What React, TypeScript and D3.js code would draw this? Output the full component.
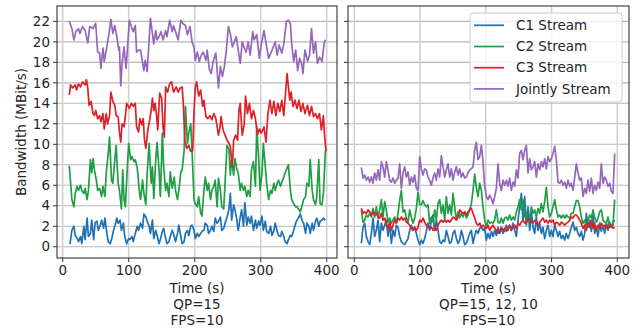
import React from "react";
import * as d3 from "d3";

type Pt = [number, number];

const seriesNames = ["C1 Stream", "C2 Stream", "C3 Stream", "Jointly Stream"];
const seriesColors = ["#1f72b4", "#1f9e45", "#de2027", "#9467bd"];
const yTicks = [0, 2, 4, 6, 8, 10, 12, 14, 16, 18, 20, 22];
const xTicks = [0, 100, 200, 300, 400];
const leftCaption = ["Time (s)", "QP=15", "FPS=10"];
const rightCaption = ["Time (s)", "QP=15, 12, 10", "FPS=10"];
const yLabel = "Bandwidth (MBit/s)";

// ---- Left panel (QP=15) : [time, MBit/s]
const leftC1: Pt[] = [[11,0.26],[14,1.6],[17,2.0],[19,1.1],[22,0.8],[24,0.5],[27,1.0],[29,0.3],[32,2.0],[34,0.7],[37,2.8],[39,1.0],[42,1.3],[44,2.6],[47,0.7],[49,2.3],[52,2.5],[54,1.6],[57,2.1],[59,2.6],[62,1.8],[64,2.8],[67,1.3],[69,0.5],[72,0.3],[74,0.7],[77,1.6],[79,2.0],[82,2.8],[84,2.3],[87,2.6],[89,1.6],[92,2.3],[94,1.0],[97,0.3],[100,0.8],[102,0.7],[105,1.0],[107,0.5],[110,1.3],[113,2.0],[115,1.6],[118,2.3],[121,1.8],[123,3.2],[126,2.9],[128,2.5],[131,2.0],[133,1.3],[136,2.6],[138,0.8],[141,1.6],[143,1.1],[146,0.3],[148,0.7],[151,1.5],[153,1.8],[156,0.8],[158,0.3],[161,0.5],[163,1.0],[166,1.6],[169,1.0],[171,0.5],[174,1.3],[176,2.1],[179,1.0],[181,0.3],[184,0.5],[186,1.3],[189,1.6],[191,1.1],[194,2.0],[196,2.1],[199,1.6],[201,0.8],[204,1.3],[206,1.0],[209,1.3],[211,1.5],[214,1.6],[216,2.3],[219,2.1],[221,1.3],[224,1.6],[226,2.0],[229,1.5],[231,2.8],[234,2.3],[236,2.5],[239,2.9],[241,1.6],[244,1.8],[246,2.3],[249,2.9],[252,3.7],[254,5.2],[256,2.6],[259,4.1],[261,3.6],[264,2.6],[266,1.6],[269,2.9],[271,3.6],[274,2.0],[276,4.3],[279,2.1],[281,2.9],[284,2.3],[286,3.0],[289,1.6],[292,2.6],[294,1.8],[297,2.5],[299,2.1],[302,3.0],[304,1.6],[307,2.5],[309,1.5],[312,1.3],[315,2.0],[317,1.1],[320,1.6],[322,2.3],[325,1.5],[327,1.1],[330,1.0],[332,1.5],[335,1.0],[337,0.5],[340,0.3],[342,0.7],[345,1.1],[347,1.0],[350,1.6],[353,2.3],[355,2.6],[358,2.9],[360,3.2],[363,2.5],[365,2.3],[368,1.3],[370,2.3],[373,2.0],[375,1.3],[378,2.3],[380,1.6],[383,2.5],[385,2.8],[388,2.0],[390,2.5],[393,2.6],[395,2.8],[398,2.6]];

const leftC2: Pt[] = [[10,7.9],[14,4.6],[17,3.9],[19,5.2],[22,5.9],[24,5.5],[27,6.0],[29,5.5],[32,5.2],[34,5.7],[37,4.6],[39,5.5],[42,8.5],[44,7.2],[46,8.6],[48,7.5],[51,6.5],[53,5.5],[56,5.7],[59,4.9],[61,5.9],[64,4.9],[66,7.2],[69,9.1],[71,10.7],[74,6.5],[76,6.2],[79,8.5],[81,9.9],[84,6.2],[86,5.5],[89,3.7],[91,7.5],[93,4.6],[95,3.9],[98,7.8],[100,10.1],[103,8.5],[105,8.8],[108,8.3],[110,8.5],[113,7.7],[116,5.5],[118,4.6],[121,6.5],[123,5.2],[126,4.1],[128,7.2],[131,10.1],[134,6.2],[136,7.8],[138,4.7],[141,8.5],[143,10.2],[146,7.5],[148,4.9],[151,11.1],[153,7.8],[156,5.5],[158,6.2],[161,4.9],[163,7.3],[166,5.7],[169,6.8],[171,5.5],[174,4.6],[176,5.5],[179,7.3],[181,7.5],[184,9.4],[186,13.7],[189,10.1],[191,11.1],[194,12.0],[196,9.4],[199,4.6],[201,4.2],[204,3.9],[206,4.9],[209,3.3],[211,3.0],[214,5.5],[216,6.8],[219,5.5],[221,6.2],[224,4.6],[226,5.5],[229,5.9],[231,6.5],[234,3.9],[236,6.7],[239,5.5],[241,3.9],[244,3.7],[246,6.2],[249,9.9],[252,9.5],[254,7.0],[256,8.5],[259,7.0],[261,8.6],[264,7.5],[266,7.2],[269,5.5],[271,6.2],[274,5.5],[276,5.9],[279,4.9],[281,5.5],[284,4.9],[286,7.5],[289,8.3],[292,5.9],[294,11.7],[297,8.5],[299,5.5],[302,7.2],[304,10.1],[307,7.8],[309,6.2],[312,4.6],[315,5.5],[317,5.2],[320,6.2],[322,5.5],[325,6.2],[327,6.5],[330,5.9],[332,6.3],[335,6.8],[337,7.2],[340,7.7],[342,8.0],[345,5.5],[347,4.6],[350,4.2],[353,3.9],[355,3.9],[358,3.6],[360,3.4],[363,4.1],[365,4.6],[368,4.9],[370,6.2],[373,5.9],[375,8.5],[378,5.5],[380,4.6],[383,4.1],[385,4.9],[388,8.5],[390,4.2],[393,4.1],[395,5.2],[398,9.4]];

const leftC3: Pt[] = [[10,14.8],[12,15.8],[15,15.5],[19,15.8],[21,15.3],[24,15.9],[27,15.6],[30,16.1],[34,15.8],[36,16.3],[38,15.5],[40,13.8],[43,14.2],[46,13.0],[48,12.8],[50,13.3],[53,12.5],[56,12.8],[58,12.2],[61,13.0],[63,11.5],[66,13.0],[68,12.0],[71,12.8],[73,15.1],[76,14.2],[79,13.8],[81,12.8],[84,12.7],[86,11.2],[88,10.2],[90,12.0],[93,11.7],[95,12.8],[97,14.0],[101,13.5],[104,14.0],[107,13.7],[110,14.0],[112,11.7],[115,11.2],[117,12.5],[120,11.9],[122,12.5],[124,10.4],[126,9.6],[129,11.4],[132,12.4],[134,13.3],[136,14.5],[138,13.3],[140,14.0],[142,13.0],[144,11.4],[147,15.0],[150,14.5],[152,11.7],[154,10.7],[156,15.6],[159,15.1],[162,15.9],[165,16.1],[168,15.1],[172,15.6],[175,15.1],[178,15.5],[181,15.6],[183,13.7],[185,10.4],[188,9.6],[191,9.9],[194,9.3],[197,9.4],[199,13.3],[201,15.6],[203,16.1],[206,14.7],[209,15.3],[212,13.7],[214,14.3],[217,12.7],[220,12.5],[223,12.8],[226,12.4],[229,13.0],[232,12.5],[236,10.9],[238,11.5],[240,12.7],[243,11.4],[246,10.9],[249,10.4],[252,10.1],[254,9.8],[257,7.8],[259,10.4],[262,10.9],[265,10.4],[267,13.3],[269,14.0],[272,10.9],[275,11.9],[277,14.7],[280,13.0],[283,14.0],[286,12.5],[289,13.3],[292,12.5],[295,10.9],[298,11.5],[301,11.1],[305,11.7],[308,10.2],[311,13.0],[314,14.3],[317,13.0],[320,14.2],[323,12.8],[326,14.0],[329,13.2],[332,14.3],[335,12.8],[338,15.3],[340,16.9],[342,15.6],[344,14.3],[346,15.1],[349,13.7],[352,14.3],[355,13.5],[358,14.3],[361,13.2],[364,14.0],[367,13.0],[371,13.8],[374,12.8],[377,13.7],[380,12.7],[383,13.0],[386,12.5],[389,13.0],[392,11.4],[395,12.8],[397,10.7],[399,9.3]];

const leftJoint: Pt[] = [[10,22.0],[14,21.3],[17,20.2],[20,21.0],[24,21.3],[26,20.8],[30,21.5],[34,21.1],[38,19.9],[41,21.5],[46,21.3],[50,21.8],[53,19.0],[56,18.9],[58,17.4],[61,19.4],[63,18.1],[66,19.2],[70,20.7],[73,22.2],[76,20.8],[79,21.6],[82,20.5],[85,19.2],[86,19.5],[88,15.7],[90,17.9],[93,19.5],[96,17.4],[98,19.2],[101,22.1],[104,21.5],[107,21.0],[110,21.6],[112,19.0],[115,19.2],[118,19.2],[120,18.4],[123,17.2],[125,18.2],[128,17.1],[130,19.2],[133,22.3],[136,20.8],[138,19.8],[141,21.1],[143,20.2],[146,20.5],[149,21.0],[152,20.2],[156,21.1],[158,20.5],[162,22.1],[166,21.0],[168,21.6],[172,20.8],[175,20.2],[179,22.1],[182,21.8],[186,21.6],[189,20.7],[193,21.5],[196,20.0],[199,19.5],[201,18.2],[204,19.0],[207,18.1],[210,18.7],[213,19.0],[217,18.2],[219,19.2],[222,17.4],[225,16.9],[228,18.1],[232,18.9],[236,15.5],[239,17.6],[242,16.6],[245,17.6],[248,19.2],[251,21.5],[254,20.8],[257,19.5],[260,20.0],[263,20.5],[266,19.2],[269,17.9],[272,20.0],[275,19.4],[278,19.0],[281,20.0],[284,18.7],[288,21.0],[290,20.2],[294,20.7],[298,18.4],[301,19.8],[305,21.1],[309,19.5],[312,18.4],[316,19.0],[319,19.5],[322,20.0],[325,18.7],[328,19.7],[332,18.9],[335,19.8],[339,22.0],[342,22.1],[345,21.8],[347,19.8],[350,18.1],[353,19.2],[356,17.2],[359,18.4],[362,17.9],[364,16.9],[367,19.2],[371,18.1],[374,18.7],[377,21.3],[380,18.9],[383,20.0],[386,17.9],[389,18.5],[393,18.1],[396,19.8],[398,20.2]];

// ---- Right panel (QP=15, 12, 10): sampled on a regular time grid
const rightTime = d3.range(153).map((i) => 10.7 + i * 2.535);

const rightC1 = [0.33,1.9,2.3,1.0,0.5,0.2,1.3,2.8,1.0,1.6, 2.6,0.5,2.3,1.6,2.1,2.6,1.0,2.3,0.33,1.6, 1.0,2.1,1.9,1.0,0.5,0.33,0.2,0.5,0.8,1.6, 2.1,1.6,1.9,1.3,0.65,0.2,0.65,0.33,0.8,1.5, 2.3,1.6,2.6,3.1,1.6,2.6,1.6,0.5,0.33,0.65, 0.5,1.6,1.0,0.33,0.5,1.3,1.6,0.8,0.33,0.65, 1.6,1.0,0.2,0.33,0.8,1.3,1.6,0.33,1.1,1.6, 1.3,1.8,1.9,1.6,1.8,
  0.65,1.3,0.8,1.5,1.0,1.6,1.1,1.9,1.3,1.8, 1.3,1.6,2.1,1.6,2.1,1.6,2.3,1.6,1.0,2.6, 3.9,5.2,2.6,4.9,2.1,3.9,1.6,3.4,1.9,1.3, 2.9,1.6,2.3,1.3,1.9,0.8,1.6,2.1,1.0,1.6, 1.0,2.1,1.6,1.0,1.5,0.8,1.1,0.65,1.3,0.8, 1.3,1.9,2.4,1.6,1.9,1.3,1.0,1.5,0.65,1.3, 3.26,1.9,2.6,1.5,3.1,1.3,1.9,1.0,2.3,1.5, 2.1,1.3,2.3,1.6,2.4,1.9,2.4,2.6];

const rightC2 = [3.6,2.4,2.6,3.1,2.9,3.26,2.9,3.75,2.9,3.9, 2.8,3.6,4.6,2.9,4.4,3.6,2.4,2.8,2.3,2.6, 2.9,2.3,3.26,4.5,5.5,3.4,3.6,2.8,2.4,3.6, 2.9,2.3,2.8,3.75,5.3,4.1,4.1,4.5,4.1,3.9, 4.1,2.3,2.9,2.4,3.6,2.6,4.2,4.6,3.26,4.1, 2.6,4.9,3.26,4.1,3.1,5.2,3.9,2.6,3.4,2.8, 3.26,2.9,3.4,2.8,3.1,3.6,4.2,5.5,7.1,5.8, 4.9,6.2,5.5,3.9,2.6,
  1.9,2.6,2.3,2.4,2.3,2.6,3.6,2.4,2.3,2.8, 2.3,2.8,2.9,2.6,3.1,2.6,2.9,2.6,3.4,3.9, 4.6,3.6,4.6,2.9,3.26,2.4,2.9,3.9,3.26,3.6, 2.9,3.75,3.26,4.2,3.4,4.4,5.8,3.9,2.9,3.26, 3.9,4.6,3.6,2.9,3.1,2.8,3.1,2.8,3.1,2.9, 2.8,3.26,3.26,3.9,4.5,4.5,3.9,2.9,2.3,2.6, 2.1,2.6,3.1,2.8,3.6,2.9,2.4,2.8,3.4,3.6, 2.6,2.4,2.3,2.9,1.9,2.1,2.1,4.6];

const rightC3 = [3.75,3.26,3.4,3.26,3.6,3.4,3.1,3.4,3.1,3.26, 2.9,2.8,3.26,2.6,2.8,2.1,1.8,2.4,1.6,2.1, 2.6,2.3,2.8,2.6,2.9,2.6,2.8,2.4,2.3,2.1, 1.8,1.6,1.9,1.6,1.9,2.6,2.4,2.8,2.4,2.1, 1.9,1.8,1.9,1.6,1.9,1.6,2.1,2.4,2.6,2.4, 2.6,2.4,2.6,2.4,2.6,2.9,2.8,2.6,2.9,3.6, 3.4,3.26,3.4,3.1,3.4,3.6,3.75,3.26,2.8,2.3, 2.1,2.3,1.9,2.1,1.9,
  1.8,2.1,1.6,1.9,2.1,1.8,1.6,1.3,1.6,1.9, 1.6,1.8,1.5,1.9,2.1,1.6,1.9,2.1,1.8,2.3, 2.1,2.4,2.6,2.3,2.4,2.8,2.6,2.4,2.3,2.6, 2.4,2.1,2.4,2.6,2.8,2.4,2.6,2.3,2.6,2.4, 2.6,2.1,2.4,2.3,2.1,2.4,2.3,2.1,2.3,2.4, 2.6,2.9,2.8,3.1,3.1,2.9,2.6,2.3,1.8,2.1, 1.6,2.3,1.9,2.6,1.8,2.3,1.6,2.1,1.8,2.3, 1.9,2.1,1.8,2.1,1.9,2.1,1.8,1.9];

const rightJoint = [7.75,6.7,7.0,6.5,6.8,6.3,6.8,6.2,7.2,6.5, 7.5,6.5,8.3,7.8,6.8,8.3,7.5,6.5,6.3,6.7, 6.2,6.5,6.7,8.1,5.7,7.2,7.8,6.8,7.3,6.0, 6.8,6.3,7.0,5.7,5.5,8.8,7.6,7.0,7.6,7.5, 6.8,6.5,6.0,6.7,7.2,6.5,7.6,6.8,8.9,7.8, 6.8,7.5,8.1,6.8,7.6,6.5,7.3,7.8,7.0,7.6, 6.8,7.2,6.7,6.8,7.2,7.5,7.6,7.8,9.4,10.2, 8.5,8.8,9.9,8.3,5.9,
  4.9,4.6,5.05,4.7,4.2,4.9,5.7,8.1,6.2,5.5, 6.5,6.0,6.5,5.9,6.7,5.5,6.3,5.9,7.5,6.7, 9.1,9.4,8.5,9.4,9.9,7.2,8.6,7.5,7.8,8.3, 6.8,8.1,7.5,8.3,7.8,8.6,7.6,8.8,8.3,8.6, 9.1,9.8,8.5,6.3,6.2,6.5,6.0,6.3,5.7,6.5, 5.9,6.2,5.5,6.8,8.1,7.2,6.5,6.7,4.9,5.7, 5.2,6.5,5.4,6.7,5.2,6.0,5.5,6.3,5.7,8.1, 6.2,6.8,6.5,5.9,6.2,5.4,5.2,9.1];

const toPts = (vals: number[]): Pt[] =>
  vals.slice(0, rightTime.length).map((v, i) => [rightTime[i], v]);

const FONT = "'DejaVu Sans', sans-serif";
const TEXT = "#262626";
const FRAME = "#333333";

const top = 6;
const bottom = 258;
const y = d3.scaleLinear().domain([-1.1, 23.5]).range([bottom, top]);

type PanelProps = {
  x0: number;
  x1: number;
  domain: [number, number];
  series: Pt[][];
  showYLabels: boolean;
  caption: string[];
};

function Panel({ x0, x1, domain, series, showYLabels, caption }: PanelProps) {
  const x = d3.scaleLinear().domain(domain).range([x0, x1]);
  const line = d3
    .line<Pt>()
    .x((d) => x(d[0]))
    .y((d) => y(d[1]));
  const cx = (x0 + x1) / 2;
  return (
    <g>
      {yTicks.map((t) => (
        <line key={"hg" + t} x1={x0} x2={x1} y1={y(t)} y2={y(t)} stroke="#b8b8b8" strokeWidth={1.1} />
      ))}
      {xTicks.map((t) => (
        <line key={"vg" + t} x1={x(t)} x2={x(t)} y1={top} y2={bottom} stroke="#cfcfcf" strokeWidth={1.5} />
      ))}
      {series.map((s, i) => (
        <path key={"s" + i} d={line(s) || ""} fill="none" stroke={seriesColors[i]} strokeWidth={1.7} strokeLinejoin="round" />
      ))}
      <rect x={x0} y={top} width={x1 - x0} height={bottom - top} fill="none" stroke={FRAME} strokeWidth={1.1} />
      {yTicks.map((t) => (
        <g key={"yt" + t}>
          <line x1={x0 - 4} x2={x0} y1={y(t)} y2={y(t)} stroke={FRAME} strokeWidth={1} />
          {showYLabels && (
            <text x={x0 - 7} y={y(t)} dy="0.35em" textAnchor="end" fontSize={13.5} fill={TEXT} fontFamily={FONT}>
              {t}
            </text>
          )}
        </g>
      ))}
      {xTicks.map((t) => (
        <g key={"xt" + t}>
          <line x1={x(t)} x2={x(t)} y1={bottom} y2={bottom + 4} stroke={FRAME} strokeWidth={1} />
          <text x={x(t)} y={bottom + 17} textAnchor="middle" fontSize={13.5} fill={TEXT} fontFamily={FONT}>
            {t}
          </text>
        </g>
      ))}
      {caption.map((c, i) => (
        <text key={"c" + i} x={cx} y={293 + i * 16} textAnchor="middle" fontSize={13.5} fill={TEXT} fontFamily={FONT}>
          {c}
        </text>
      ))}
    </g>
  );
}

export default function App() {
  const leftSeries = [leftC1, leftC2, leftC3, leftJoint];
  const rightSeries = [toPts(rightC1), toPts(rightC2), toPts(rightC3), toPts(rightJoint)];
  const legX = 470;
  const legY = 13;
  return (
    <svg width={642} height={330} style={{ position: "absolute", left: 0, top: 0, background: "#fff" }}>
      <rect x={0} y={0} width={642} height={330} fill="#fff" />
      <Panel x0={57} x1={337} domain={[-8.6, 415.6]} series={leftSeries} showYLabels={true} caption={leftCaption} />
      <Panel x0={348} x1={629} domain={[-9.6, 417.8]} series={rightSeries} showYLabels={false} caption={rightCaption} />
      <text
        transform={`translate(21, ${(top + bottom) / 2}) rotate(-90)`}
        textAnchor="middle"
        dy="0.35em"
        fontSize={13.5}
        fill={TEXT}
        fontFamily={FONT}
      >
        {yLabel}
      </text>
      <g>
        <rect x={legX} y={legY} width={152} height={89} rx={3} fill="#fff" fillOpacity={0.8} stroke="#cccccc" strokeWidth={1} />
        {seriesNames.map((n, i) => (
          <g key={n}>
            <line x1={legX + 4} x2={legX + 34} y1={legY + 12.3 + i * 21.2} y2={legY + 12.3 + i * 21.2} stroke={seriesColors[i]} strokeWidth={1.7} />
            <text x={legX + 46} y={legY + 12.3 + i * 21.2} dy="0.35em" fontSize={13.5} fill={TEXT} fontFamily={FONT}>
              {n}
            </text>
          </g>
        ))}
      </g>
    </svg>
  );
}
